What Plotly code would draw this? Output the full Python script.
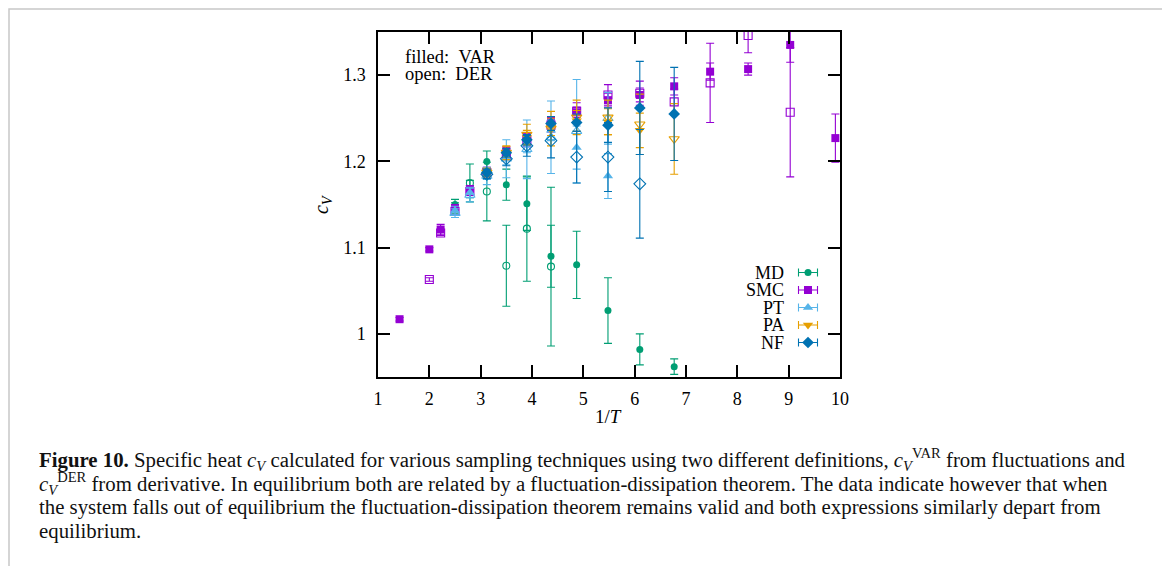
import plotly.graph_objects as go

# ---------------- data ----------------
md_var_x = [2.5, 2.79, 3.12, 3.5, 3.9, 4.37, 4.87, 5.48, 6.1, 6.77]
md_var_y = [1.150, 1.168, 1.200, 1.173, 1.151, 1.090, 1.080, 1.027, 0.982, 0.962]
md_var_e = [0.006, 0.010, 0.012, 0.018, 0.031, 0.036, 0.039, 0.038, 0.018, 0.009]
md_der_x = [2.5, 2.79, 3.12, 3.5, 3.9, 4.37]
md_der_y = [1.146, 1.175, 1.165, 1.079, 1.122, 1.078]
md_der_e = [0.006, 0.022, 0.034, 0.047, 0.061, 0.092]

smc_var_x = [1.42, 2.0, 2.22, 2.5, 2.79, 3.12, 3.5, 3.9, 4.37, 4.87, 5.48, 6.1, 6.77, 7.47, 8.21, 9.03, 9.91]
smc_var_y = [1.017, 1.098, 1.121, 1.146, 1.168, 1.189, 1.212, 1.228, 1.246, 1.257, 1.271, 1.277, 1.287, 1.304, 1.307, 1.335, 1.227]
smc_var_e = [0.002, 0.002, 0.006, 0.004, 0.004, 0.004, 0.005, 0.005, 0.005, 0.006, 0.008, 0.008, 0.010, 0.010, 0.007, 0.020, 0.028]
smc_der_x = [2.0, 2.22, 2.5, 2.79, 3.12, 3.5, 3.9, 4.37, 4.87, 5.48, 6.1, 6.77, 7.47, 8.21, 9.03]
smc_der_y = [1.063, 1.117, 1.142, 1.165, 1.187, 1.208, 1.224, 1.242, 1.258, 1.277, 1.279, 1.269, 1.291, 1.346, 1.257]
smc_der_e = [0.002, 0.003, 0.004, 0.004, 0.005, 0.006, 0.007, 0.008, 0.010, 0.012, 0.014, 0.015, 0.046, 0.020, 0.075]

pt_var_x = [2.5, 2.79, 3.12, 3.5, 3.9, 4.37, 4.87, 5.48]
pt_var_y = [1.143, 1.164, 1.185, 1.204, 1.220, 1.236, 1.216, 1.183]
pt_var_e = [0.005, 0.006, 0.006, 0.008, 0.010, 0.012, 0.025, 0.026]
pt_der_x = [2.5, 2.79, 3.12, 3.5, 3.9, 4.37, 4.87, 5.48]
pt_der_y = [1.140, 1.161, 1.183, 1.203, 1.214, 1.228, 1.235, 1.250]
pt_der_e = [0.005, 0.008, 0.010, 0.022, 0.034, 0.042, 0.060, 0.030]

pa_var_x = [3.12, 3.5, 3.9, 4.37, 4.87, 5.48, 6.1]
pa_var_y = [1.188, 1.211, 1.228, 1.240, 1.247, 1.246, 1.236]
pa_var_e = [0.004, 0.006, 0.008, 0.010, 0.012, 0.015, 0.020]
pa_der_x = [3.12, 3.5, 3.9, 4.37, 4.87, 5.48, 6.1, 6.77]
pa_der_y = [1.187, 1.210, 1.231, 1.238, 1.251, 1.251, 1.243, 1.226]
pa_der_e = [0.005, 0.008, 0.012, 0.020, 0.020, 0.020, 0.035, 0.041]

nf_var_x = [3.12, 3.5, 3.9, 4.37, 4.87, 5.48, 6.1, 6.77]
nf_var_y = [1.187, 1.210, 1.225, 1.244, 1.245, 1.242, 1.262, 1.255]
nf_var_e = [0.004, 0.005, 0.006, 0.008, 0.010, 0.020, 0.054, 0.054]
nf_der_x = [3.12, 3.5, 3.9, 4.37, 4.87, 5.48, 6.1]
nf_der_y = [1.185, 1.203, 1.218, 1.224, 1.205, 1.205, 1.174]
nf_der_e = [0.005, 0.008, 0.012, 0.020, 0.030, 0.040, 0.063]

x_ticks = [1, 2, 3, 4, 5, 6, 7, 8, 9, 10]
y_ticks = [1.0, 1.1, 1.2, 1.3]
y_tick_labels = ["1", "1.1", "1.2", "1.3"]

methods = ["MD", "SMC", "PT", "PA", "NF"]
colors = {"MD": "#009e73", "SMC": "#9400d3", "PT": "#56b4e9", "PA": "#e69f00", "NF": "#0072b2"}
symbols = {"MD": "circle", "SMC": "square", "PT": "triangle-up", "PA": "triangle-down", "NF": "diamond"}
sizes = {"MD": 7, "SMC": 8, "PT": 9, "PA": 9, "NF": 9}

series = {
    "MD": [(md_var_x, md_var_y, md_var_e), (md_der_x, md_der_y, md_der_e)],
    "SMC": [(smc_var_x, smc_var_y, smc_var_e), (smc_der_x, smc_der_y, smc_der_e)],
    "PT": [(pt_var_x, pt_var_y, pt_var_e), (pt_der_x, pt_der_y, pt_der_e)],
    "PA": [(pa_var_x, pa_var_y, pa_var_e), (pa_der_x, pa_der_y, pa_der_e)],
    "NF": [(nf_var_x, nf_var_y, nf_var_e), (nf_der_x, nf_der_y, nf_der_e)],
}

SERIF = "Liberation Serif"
OFF = 8                       # page body margin of the html page
W, H = 1170 - OFF, 566 - OFF
L, R, T, B = 378, 840, 32, 377  # plot frame in page pixels
pw, ph = R - L, B - T

def px_x(p):
    return (p - L) / pw

def px_y(p):
    return (B - p) / ph

fig = go.Figure()

for m in methods:
    (vx, vy, ve), (dx, dy, de) = series[m]
    c = colors[m]
    # open (DER)
    fig.add_trace(go.Scatter(
        x=dx, y=dy, mode="markers", showlegend=False,
        marker=dict(symbol=symbols[m] + "-open", size=sizes[m], color=c, line=dict(color=c, width=1.1)),
        error_y=dict(type="data", array=de, color=c, thickness=1.1, width=4),
    ))
    # filled (VAR)
    fig.add_trace(go.Scatter(
        x=vx, y=vy, mode="markers", showlegend=False,
        marker=dict(symbol=symbols[m], size=sizes[m], color=c, line=dict(width=0)),
        error_y=dict(type="data", array=ve, color=c, thickness=1.1, width=4),
    ))

# custom legend (text right-aligned, key to the right), on a pixel overlay axis
leg_top = B - 272.5
leg_step = 17.5
key_x = 808 - L
for i, m in enumerate(methods):
    yy = leg_top - i * leg_step
    fig.add_trace(go.Scatter(
        x=[key_x], y=[yy], xaxis="x2", yaxis="y2", mode="markers", showlegend=False,
        marker=dict(symbol=symbols[m], size=sizes[m], color=colors[m], line=dict(width=0)),
        error_x=dict(type="data", array=[9.5], color=colors[m], thickness=1.1, width=4),
    ))
    fig.add_annotation(xref="x2", yref="y2", x=786 - L, y=yy, text=m, showarrow=False,
                       xanchor="right", yanchor="middle", font=dict(family=SERIF, size=18, color="black"))

axis_common = dict(showgrid=False, zeroline=False, showline=True, linecolor="black", linewidth=1.5,
                   ticks="inside", ticklen=12, tickwidth=1.5, tickcolor="black", mirror="ticks",
                   tickfont=dict(family=SERIF, size=18, color="black"))

fig.update_layout(
    width=W, height=H,
    margin=dict(l=L - OFF, r=W - (R - OFF), t=T - OFF, b=H - (B - OFF)),
    paper_bgcolor="white", plot_bgcolor="white",
    xaxis=dict(range=[1, 10], tickvals=x_ticks, ticklabelstandoff=5, **axis_common),
    yaxis=dict(range=[0.95, 1.35], tickvals=y_ticks, ticktext=y_tick_labels, ticklabelstandoff=7, **axis_common),
    xaxis2=dict(overlaying="x", range=[0, pw], visible=False, anchor="y2", fixedrange=True),
    yaxis2=dict(overlaying="y", range=[0, ph], visible=False, anchor="x2", fixedrange=True),
)

# axis titles
fig.add_annotation(xref="paper", yref="paper", x=px_x(608), y=px_y(416), text="1/<i>T</i>",
                   xanchor="center", yanchor="middle",
                   showarrow=False, font=dict(family=SERIF, size=19, color="black"))
fig.add_annotation(xref="paper", yref="paper", x=px_x(323), y=px_y(205), text="<i>c<sub>V</sub></i>",
                   xanchor="center", yanchor="middle",
                   showarrow=False, textangle=-90, font=dict(family=SERIF, size=20, color="black"))

# filled / open key
fig.add_annotation(xref="paper", yref="paper", x=px_x(403), y=px_y(57), text="filled:\u00a0\u00a0VAR",
                   showarrow=False, xanchor="left", yanchor="middle", font=dict(family=SERIF, size=18.5, color="black"))
fig.add_annotation(xref="paper", yref="paper", x=px_x(403), y=px_y(74), text="open:\u00a0\u00a0DER",
                   showarrow=False, xanchor="left", yanchor="middle", font=dict(family=SERIF, size=18.5, color="black"))

# caption
caption_lines = [
    "<b>Figure 10.</b> Specific heat <i>c<sub>V</sub></i> calculated for various sampling techniques using two different definitions, <i>c</i><sub><i>V</i></sub><sup>VAR</sup> from fluctuations and",
    "<i>c</i><sub><i>V</i></sub><sup>DER</sup> from derivative. In equilibrium both are related by a fluctuation-dissipation theorem. The data indicate however that when",
    "the system falls out of equilibrium the fluctuation-dissipation theorem remains valid and both expressions similarly depart from",
    "equilibrium.",
]
caption_y = [459, 483, 507, 531]
for txt, yy in zip(caption_lines, caption_y):
    fig.add_annotation(xref="paper", yref="paper", x=px_x(37), y=px_y(yy), text=txt, showarrow=False,
                       xanchor="left", yanchor="middle", font=dict(family=SERIF, size=20.8, color="#111111"))

# page border
fig.add_shape(type="rect", xref="paper", yref="paper", x0=px_x(9), x1=px_x(1163), y0=px_y(600), y1=px_y(OFF + 1),
              line=dict(color="#c8c8c8", width=1.5), fillcolor="rgba(0,0,0,0)", layer="below")

fig.write_html("out.html")
